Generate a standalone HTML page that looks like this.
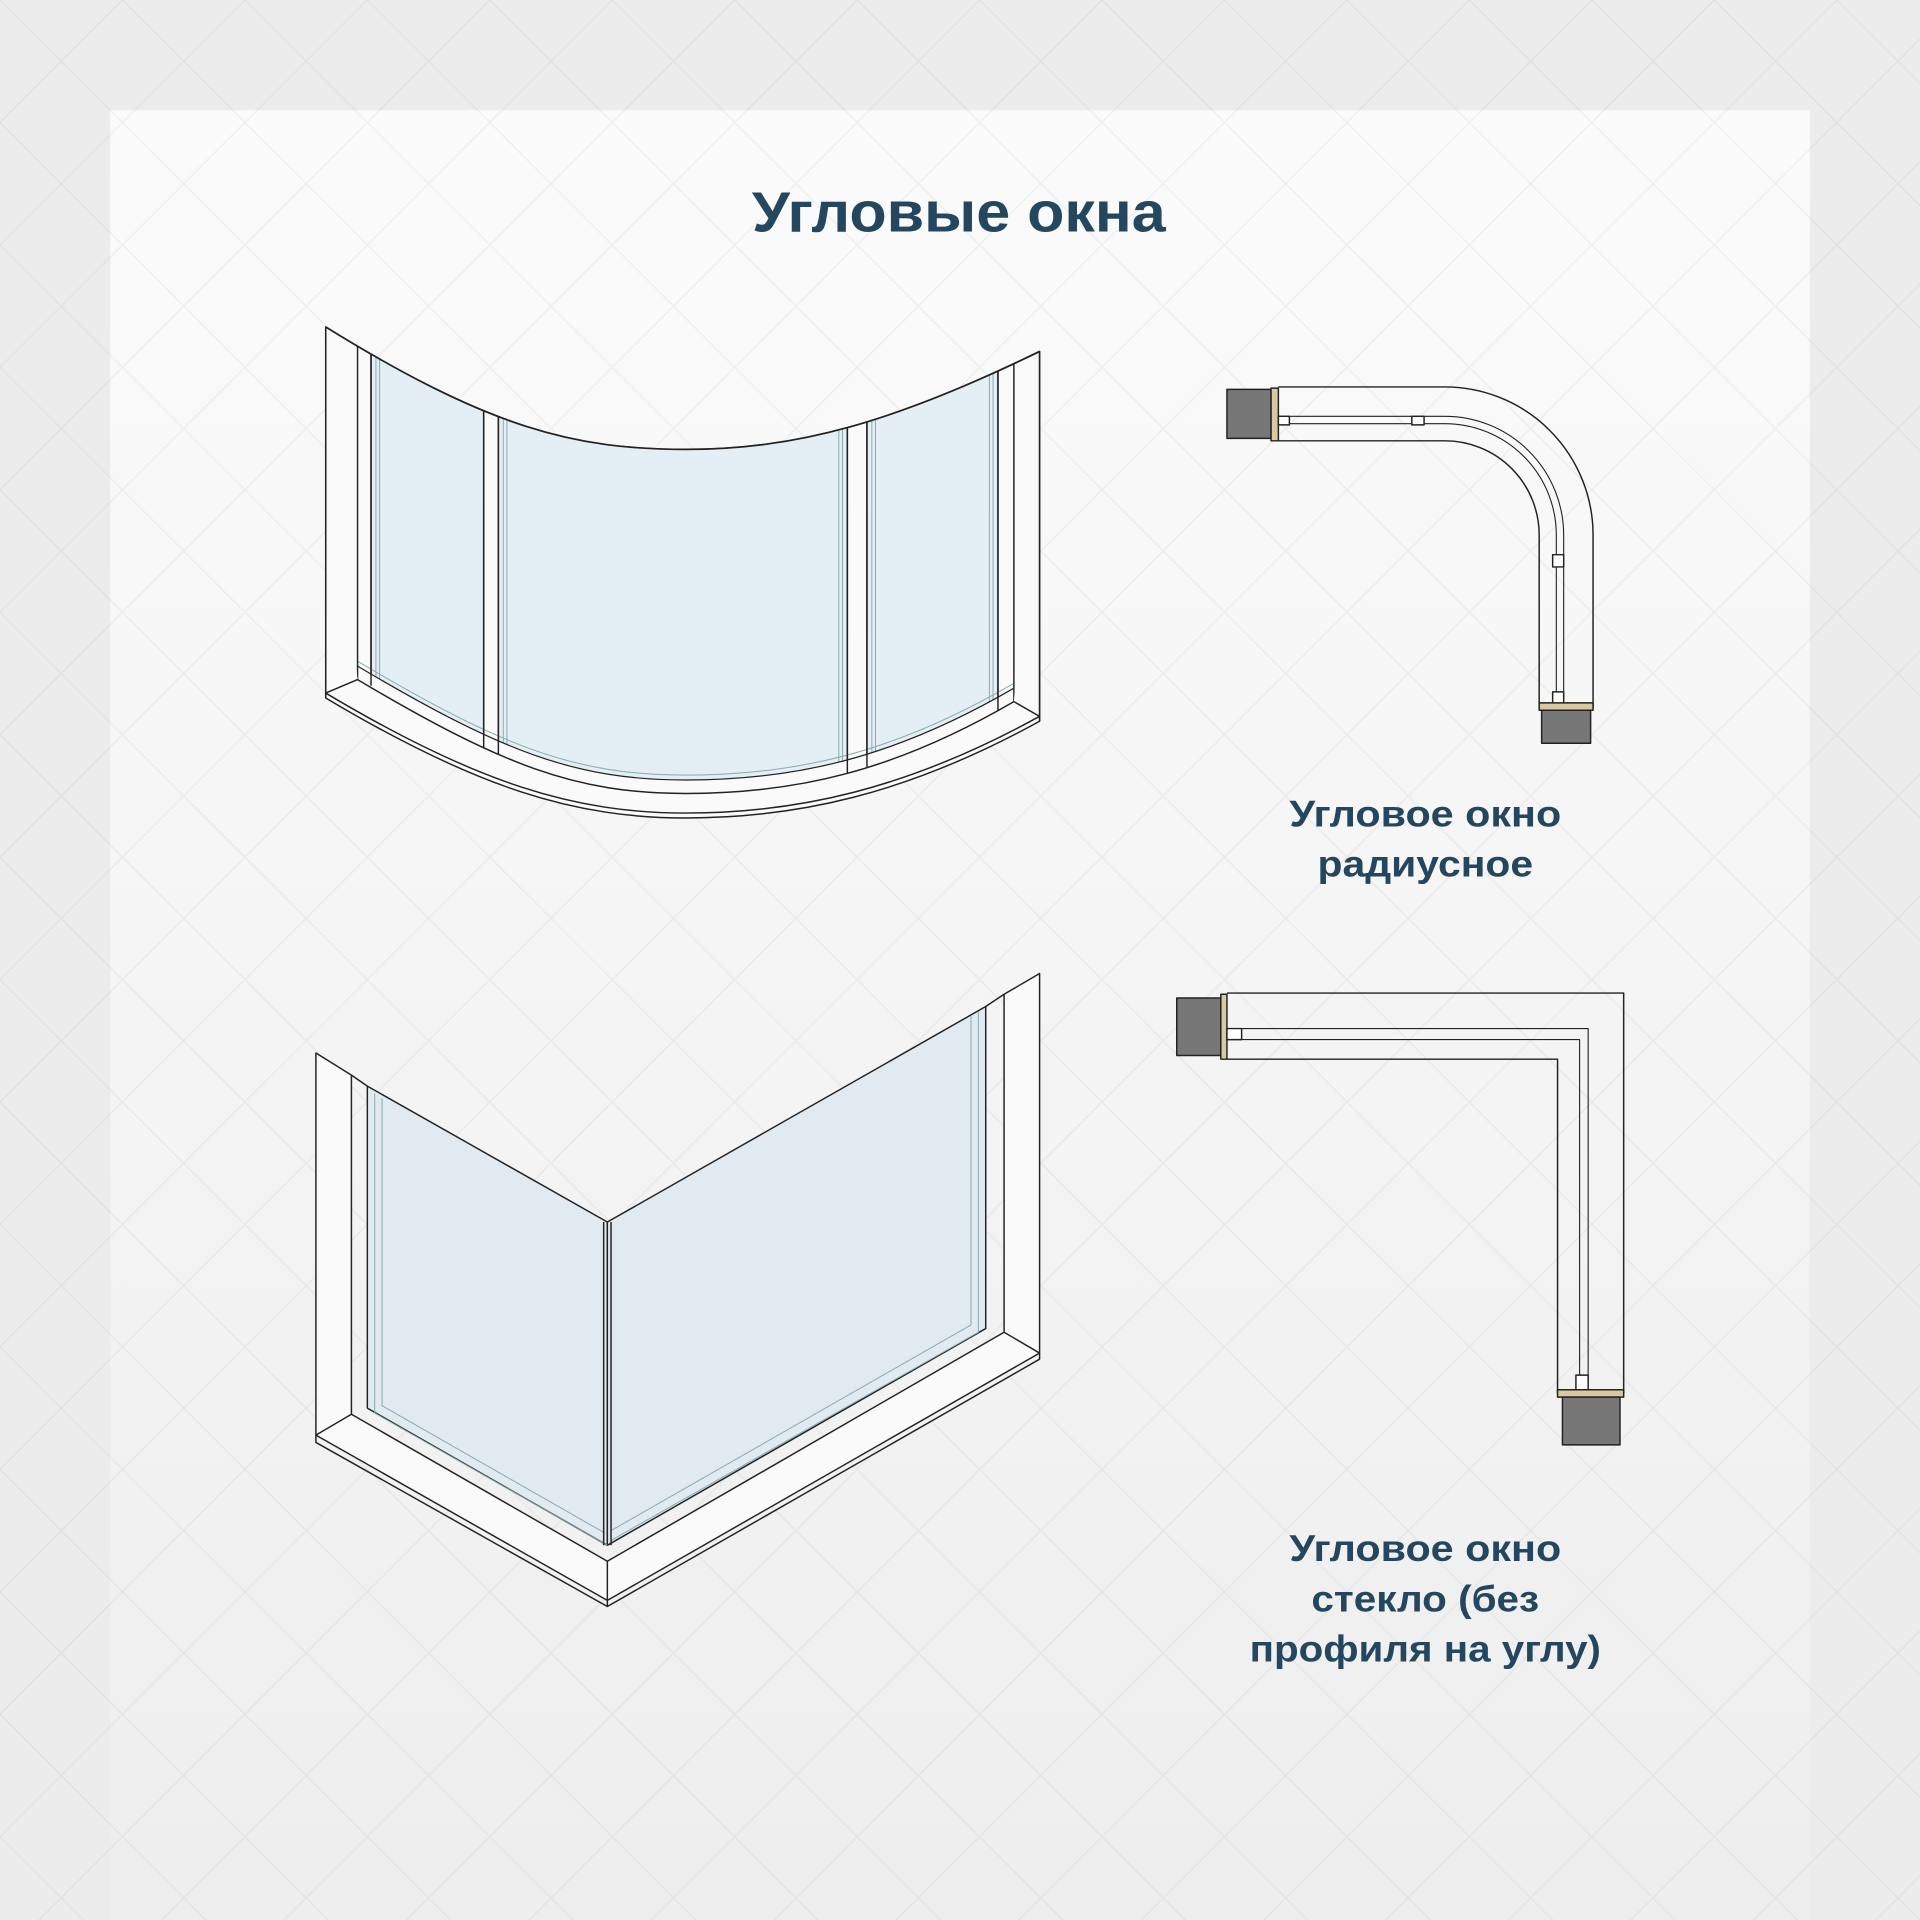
<!DOCTYPE html>
<html><head><meta charset="utf-8"><style>
html,body{margin:0;padding:0;background:#ececec}
svg{display:block}
text{font-family:"Liberation Sans",sans-serif;font-weight:bold;fill:#24475f;text-anchor:middle}
</style></head><body>
<svg width="1920" height="1920" viewBox="0 0 1568 1568" xmlns="http://www.w3.org/2000/svg">
<defs>
<linearGradient id="pg" x1="0" y1="0" x2="0" y2="1"><stop offset="0" stop-color="#fbfbfb"/><stop offset="1" stop-color="#eeeeee"/></linearGradient>
<pattern id="wm" width="100" height="100" patternUnits="userSpaceOnUse">
<path d="M0 0L100 100M100 0L0 100" stroke="#000" stroke-opacity="0.04" stroke-width="1.3" fill="none"/>
</pattern>
<clipPath id="gl"><path d="M266 267 C400 350,470 367,560 367 C650 367,730 345,849 287 L828 562 C730 619,650 637,560 637 C470 637,410 614,292 544 Z"/></clipPath>
<clipPath id="op"><path d="M266 267 C400 350,470 367,560 367 C650 367,730 345,849 287 L828 573 C730 630,650 648,560 648 C470 648,410 625,292 555 Z"/></clipPath>
</defs>
<rect width="1568" height="1568" fill="#ececec"/>
<rect x="90" y="90" width="1388" height="1478" fill="url(#pg)"/>
<rect width="1568" height="1568" fill="url(#wm)"/>

<text x="783" y="189" font-size="46" textLength="338" lengthAdjust="spacingAndGlyphs">Угловые окна</text>

<g stroke="#222" stroke-width="1.2" fill="none" stroke-linejoin="round">
<!-- radius window -->
<path d="M266 267 C400 350,470 367,560 367 C650 367,730 345,849 287 L849 589 C740 649,650 668,560 668 C470 668,390 644,266 570 Z" fill="#fafafa"/>
<g clip-path="url(#gl)">
<rect x="303" y="250" width="92" height="420" fill="#e4eef5"/>
<rect x="407" y="250" width="285" height="420" fill="#e4eef5"/>
<rect x="708" y="250" width="107" height="420" fill="#e4eef5"/>
<path d="M307 250 V700 M310 250 V700 M411 250 V700 M414 250 V700 M688 250 V700 M685 250 V700 M712 250 V700 M715 250 V700 M811 250 V700 M808 250 V700" stroke="#8aa" stroke-width="0.8"/>
<path d="M292 540 C410 610,470 633,560 633 C650 633,730 615,828 558" stroke="#8aa" stroke-width="0.8"/>
</g>
<g clip-path="url(#op)">
<path d="M292 250 V700 M303 250 V560 M395 250 V700 M407 250 V700 M692 250 V700 M708 250 V700 M815 250 V580 M828 250 V700"/>
</g>
<path d="M292 544 C410 614,470 637,560 637 C650 637,730 619,828 562" stroke-width="1"/>
<path d="M292 555 C410 625,470 648,560 648 C650 648,730 630,828 573"/>
<path d="M266 566 C390 640,470 664,560 664 C650 664,740 645,849 585"/>
<path d="M266 566 L292 555 M849 585 L828 573 M266 267 V570 M849 287 V589"/>
<path d="M266 267 C400 350,470 367,560 367 C650 367,730 345,849 287" stroke-width="1.4"/>
<!-- radius plan -->
<rect x="1002" y="318" width="36" height="40" fill="#777"/>
<rect x="1038" y="317" width="6" height="43" fill="#d8c9a0"/>
<path d="M1044 316 H1180 A121 121 0 0 1 1301 437 V578 M1044 360 H1180 A77 77 0 0 1 1257 437 V578" fill="none"/>
<path d="M1044 340 H1180 A97 97 0 0 1 1277 437 V570 M1044 346 H1180 A91 91 0 0 1 1271 437 V570" stroke-width="0.9"/>
<rect x="1044" y="340" width="9" height="7" fill="#fff"/>
<rect x="1153" y="340" width="10" height="7" fill="#fff"/>
<rect x="1268" y="453" width="9" height="10" fill="#fff"/>
<rect x="1268" y="565" width="9" height="10" fill="#fff"/>
<rect x="1257" y="574" width="44" height="6" fill="#d8c9a0"/>
<rect x="1259" y="580" width="40" height="27" fill="#777"/>

<!-- corner window -->
<path d="M258 860 L287 878 L287 1155 L496 1275 L820 1088 L820 812 L849 795 L849 1105 L496 1307 L258 1172 Z" fill="#fafafa"/>
<path d="M258 1172 L258 1178 L496 1312 L849 1110 L849 1105"/>
<path d="M496 1275 V1312 M258 1172 L287 1155 M849 1105 L820 1088"/>
<path d="M287 878 L300 887 M820 812 L805 822"/>
<polygon points="300,887 496,998 496,1262 300,1150" fill="#e1e9f1"/>
<polygon points="496,998 805,822 805,1085 496,1262" fill="#e1e9f1"/>
<path d="M306 893 V1154 L496 1262 M312 897 V1148 L494 1252 M799 826 V1088 L499 1258 M793 830 V1082 L499 1250" stroke="#8aa" stroke-width="0.8"/>
<path d="M493 998 V1262 M499 998 V1262"/>
<!-- rect plan -->
<rect x="961" y="815" width="36" height="47" fill="#777"/>
<rect x="997" y="812" width="5" height="53" fill="#d8c9a0"/>
<path d="M1002 811 H1326 V1138 M1002 865 H1272 V1138"/>
<path d="M1002 840 H1297 V1126 M1002 849 H1290 V1126" stroke-width="0.9"/>
<rect x="1002" y="840" width="12" height="9" fill="#fff"/>
<rect x="1287" y="1123" width="10" height="13" fill="#fff"/>
<rect x="1272" y="1135" width="54" height="6" fill="#d8c9a0"/>
<rect x="1276" y="1141" width="47" height="39" fill="#777"/>
</g>

<text x="1164" y="675" font-size="30" textLength="222" lengthAdjust="spacingAndGlyphs">Угловое окно</text>
<text x="1164" y="716" font-size="30" textLength="176" lengthAdjust="spacingAndGlyphs">радиусное</text>
<text x="1164" y="1275" font-size="30" textLength="222" lengthAdjust="spacingAndGlyphs">Угловое окно</text>
<text x="1164" y="1316" font-size="30" textLength="186" lengthAdjust="spacingAndGlyphs">стекло (без</text>
<text x="1164" y="1357" font-size="30" textLength="287" lengthAdjust="spacingAndGlyphs">профиля на углу)</text>
</svg>
</body></html>
